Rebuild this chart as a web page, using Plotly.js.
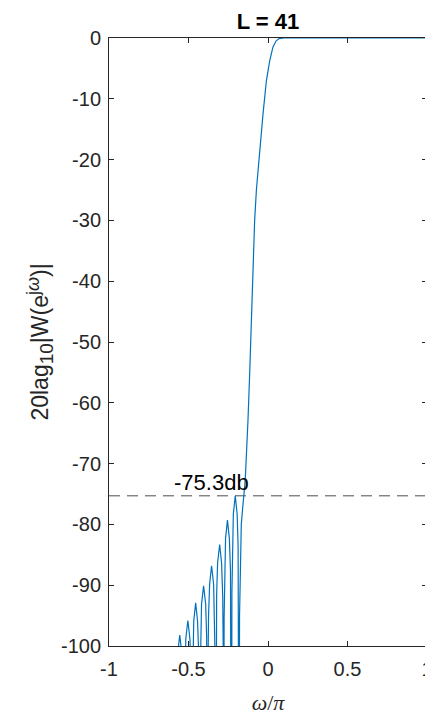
<!DOCTYPE html>
<html>
<head>
<meta charset="utf-8">
<script src="https://cdn.plot.ly/plotly-3.0.1.min.js"></script>
<style>
html,body{margin:0;padding:0;background:#fff;overflow:hidden;width:425px;height:715px;}
#chart{width:440px;height:715px;}
</style>
</head>
<body>
<div id="chart"></div>
<script>
// Normalized frequency (omega/pi) and magnitude response in dB
const freq = [
  -0.600, -0.580, -0.577, -0.574, -0.568, -0.555, -0.542, -0.536, -0.532,
  -0.529, -0.526, -0.523, -0.517, -0.504, -0.491, -0.485, -0.482,
  -0.479, -0.476, -0.473, -0.467, -0.455, -0.443, -0.436, -0.433,
  -0.430, -0.427, -0.424, -0.418, -0.405, -0.392, -0.386, -0.383,
  -0.380, -0.377, -0.374, -0.367, -0.355, -0.342, -0.336, -0.332,
  -0.329, -0.326, -0.323, -0.317, -0.304, -0.292, -0.285, -0.282,
  -0.279, -0.276, -0.273, -0.267, -0.255, -0.243, -0.236, -0.233,
  -0.230, -0.227, -0.224, -0.218, -0.206, -0.194, -0.188, -0.185,
  -0.182, -0.179, -0.175, -0.168, -0.160, -0.152, -0.146, -0.141,
  -0.136, -0.126, -0.115, -0.104, -0.094, -0.084, -0.073, -0.062,
  -0.052, -0.031, -0.010, 0.011, 0.031, 0.050, 0.070, 0.100, 0.500, 1.000
];
const magDb = [
  -140, -140, -114.0, -106.5, -101.2, -98.2, -101.2, -106.5, -114.0,
  -140, -111.8, -104.1, -98.8, -95.8, -98.8, -104.1, -111.8,
  -140, -108.9, -101.2, -95.9, -92.9, -95.9, -101.2, -108.9,
  -140, -106.1, -98.4, -93.1, -90.1, -93.1, -98.4, -106.1,
  -140, -102.8, -95.1, -89.8, -86.8, -89.8, -95.1, -102.8,
  -140, -99.3, -91.6, -86.3, -83.3, -86.3, -91.6, -99.3,
  -140, -95.3, -87.6, -82.3, -79.3, -82.3, -87.6, -95.3,
  -140, -91.3, -83.6, -78.3, -75.3, -78.3, -83.6, -91.3,
  -140, -95.0, -86.0, -80.0, -77.5, -75.5, -73.5, -71.5,
  -69.0, -62.9, -55.0, -46.4, -37.5, -30.0, -25.0, -21.3,
  -17.9, -12.4, -7.0, -3.7, -1.5, -0.5, -0.1, 0.0, 0.0, 0.0
];
// Dashed reference level
const refX = [-1, 1];
const refLevel = -75.3;
const refLabel = "-75.3db";

const chartTitle = "L = 41";
const xTickVals = [-1, -0.5, 0, 0.5, 1];
const xTickText = ["-1", "-0.5", "0", "0.5", "1"];
const yTickVals = [0, -10, -20, -30, -40, -50, -60, -70, -80, -90, -100];
const yTickText = ["0", "-10", "-20", "-30", "-40", "-50", "-60", "-70", "-80", "-90", "-100"];

const axisColor = "#262626";
const fontFam = "'Liberation Sans', Arial, sans-serif";

const traces = [
  {
    x: refX, y: refX.map(() => refLevel),
    type: "scatter", mode: "lines",
    line: {color: "#4d4d4d", width: 1, dash: "11px,7px"},
    hoverinfo: "skip"
  },
  {
    x: freq, y: magDb,
    type: "scatter", mode: "lines",
    line: {color: "#0072BD", width: 1.2}
  }
];

const layout = {
  width: 440, height: 715,
  margin: {l: 109, r: 13, t: 38, b: 69},
  paper_bgcolor: "#ffffff",
  plot_bgcolor: "#ffffff",
  showlegend: false,
  font: {family: fontFam, size: 20, color: axisColor},
  title: {
    text: "<b>" + chartTitle + "</b>",
    font: {family: fontFam, size: 22, color: "#000000"},
    x: 0.5, xref: "paper",
    y: 1 - 21 / 715, yref: "container", yanchor: "middle"
  },
  xaxis: {
    range: [-1, 1],
    tickvals: xTickVals, ticktext: xTickText,
    ticks: "inside", ticklen: 5, tickwidth: 1, tickcolor: axisColor,
    showline: true, linecolor: axisColor, linewidth: 1, mirror: "ticks",
    showgrid: false, zeroline: false,
    tickfont: {family: fontFam, size: 20, color: axisColor},
    ticklabelstandoff: 5,
    title: {
      text: "<i>ω</i>/<i>π</i>",
      font: {family: "'Liberation Serif', 'DejaVu Serif', serif", size: 22, color: axisColor},
      standoff: 15
    },
    automargin: false
  },
  yaxis: {
    range: [-100, 0],
    tickvals: yTickVals, ticktext: yTickText,
    ticks: "inside", ticklen: 5, tickwidth: 1, tickcolor: axisColor,
    showline: true, linecolor: axisColor, linewidth: 1, mirror: "ticks",
    showgrid: false, zeroline: false,
    tickfont: {family: fontFam, size: 20, color: axisColor},
    ticklabelstandoff: 3,
    title: {
      text: "20lag<sub><span style=\"font-size:19px\">10</span></sub>|W(e<sup><span style=\"font-size:18px\">j<i>ω</i></span></sup>)|",
      font: {family: fontFam, size: 23, color: axisColor},
      standoff: 5
    },
    automargin: false
  },
  annotations: [
    {
      x: -0.353, y: refLevel, xref: "x", yref: "y",
      text: refLabel, showarrow: false,
      xanchor: "center", yanchor: "bottom", yshift: -1,
      font: {family: fontFam, size: 22, color: "#000000"}
    }
  ]
};

Plotly.newPlot("chart", traces, layout, {displayModeBar: false, staticPlot: true});
</script>
</body>
</html>
